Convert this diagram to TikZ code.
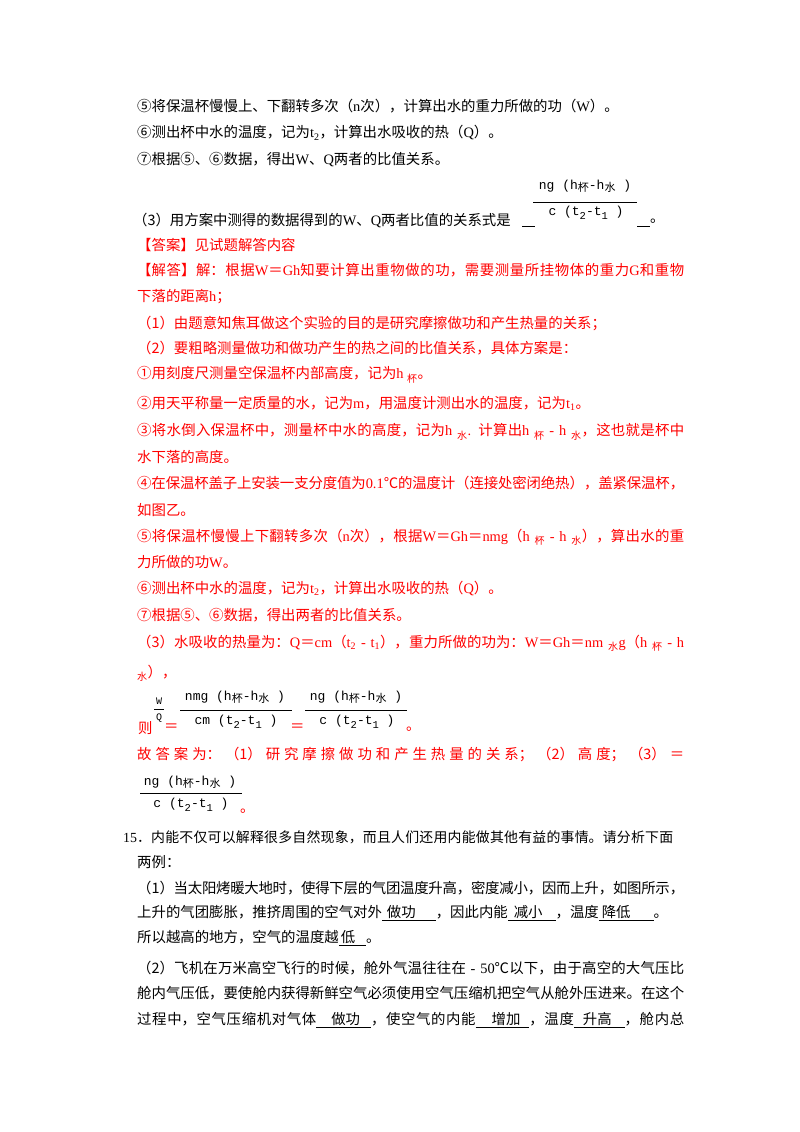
\documentclass[tikz,border=0pt]{standalone}
\usepackage{amsmath}
\usepackage{fontspec}
\setmainfont{Noto Sans CJK SC}
\newfontfamily\enfont{Liberation Serif}
\newfontfamily\frfont{Liberation Mono}
\newfontfamily\cjk{Noto Sans CJK SC}
\XeTeXlinebreaklocale "zh"
\XeTeXlinebreakskip=0pt plus 2pt minus 0.3pt
\setlength{\parindent}{0pt}
\definecolor{ansred}{RGB}{255,0,0}
\newcommand{\zh}{\fontsize{14.4}{17}\selectfont}
\newcommand{\frsz}{\frfont\fontsize{13}{15}\selectfont}
\newcommand{\en}[1]{{\enfont #1}}
\newcommand{\csub}[1]{\raisebox{-2.5pt}{\cjk\fontsize{11}{12}\selectfont #1}}
\newcommand{\dsub}[1]{\raisebox{-3.5pt}{\fontsize{10.5}{12}\selectfont #1}}
\newcommand{\fillin}[3]{\underline{\hspace*{#1pt}#2\hspace*{#3pt}}}
\newcommand{\jline}[1]{\parfillskip=0pt\rightskip=0pt\leftskip=0pt\tolerance=10000 #1\par}

\begin{document}
\begin{tikzpicture}[x=1pt, y=-1pt,
  txt/.style={anchor=west, inner sep=0pt, font=\zh},
  full/.style={txt, text width=547pt},
  ans/.style={text=ansred},
  fr/.style={inner sep=0pt, font=\frsz},
  bar/.style={line width=0.7pt}]
\fill[white] (0,0) rectangle (800,1132);
\useasboundingbox (0,0) rectangle (800,1132);

\node[txt] (q5) at (137,106) {⑤将保温杯慢慢上、下翻转多次（\en{n}次），计算出水的重力所做的功（\en{W}）。};
\node[txt] (q6) at (137,133) {⑥测出杯中水的温度，记为\en{t\textsubscript{2}}，计算出水吸收的热（\en{Q}）。};
\node[txt] (q7) at (137,160) {⑦根据⑤、⑥数据，得出\en{W}、\en{Q}两者的比值关系。};
\node[txt] (q3) at (133,221) {（3）用方案中测得的数据得到的\en{W}、\en{Q}两者比值的关系式是};
\draw (522,226) -- (535,226);
\node[fr] (q3n) at (585,186) {ng (h\csub{杯}-h\csub{水} )};
\draw[bar] (533,202) -- (637,202);
\node[fr] (q3d) at (586,213) {c (t\dsub{2}-t\dsub{1} )};
\draw (637,226) -- (650,226);
\node[txt] (q3e) at (650,221) {。};

\node[txt,ans] (a0) at (137,245) {【答案】见试题解答内容};
\node[full,ans] (a1) at (137,270) {\jline{【解答】解：根据\en{W}＝\en{Gh}知要计算出重物做的功，需要测量所挂物体的重力\en{G}和重物}};
\node[txt,ans] (a2) at (137,297) {下落的距离\en{h}；};
\node[txt,ans] (a3) at (137,323) {（1）由题意知焦耳做这个实验的目的是研究摩擦做功和产生热量的关系；};
\node[txt,ans] (a4) at (137,348) {（2）要粗略测量做功和做功产生的热之间的比值关系，具体方案是：};
\node[txt,ans] (a5) at (137,375) {①用刻度尺测量空保温杯内部高度，记为\en{h }\textsubscript{杯}。};
\node[txt,ans] (a6) at (137,403) {②用天平称量一定质量的水，记为\en{m}，用温度计测出水的温度，记为\en{t\textsubscript{1}}。};
\node[full,ans] (a7) at (137,432) {\jline{③将水倒入保温杯中，测量杯中水的高度，记为\en{h }\textsubscript{水}\en{. }计算出\en{h }\textsubscript{杯}\en{\ - h }\textsubscript{水}，这也就是杯中}};
\node[txt,ans] (a8) at (137,457) {水下落的高度。};
\node[full,ans] (a9) at (137,483) {\jline{④在保温杯盖子上安装一支分度值为\en{0.1}℃的温度计（连接处密闭绝热），盖紧保温杯，}};
\node[txt,ans] (a10) at (137,510) {如图乙。};
\node[full,ans] (a11) at (137,537) {\jline{⑤将保温杯慢慢上下翻转多次（\en{n}次），根据\en{W}＝\en{Gh}＝\en{nmg}（\en{h }\textsubscript{杯}\en{\ - h }\textsubscript{水}），算出水的重}};
\node[txt,ans] (a12) at (137,562) {力所做的功\en{W}。};
\node[txt,ans] (a13) at (137,588) {⑥测出杯中水的温度，记为\en{t\textsubscript{2}}，计算出水吸收的热（\en{Q}）。};
\node[txt,ans] (a14) at (137,615) {⑦根据⑤、⑥数据，得出两者的比值关系。};
\node[full,ans] (a15) at (137,643) {\jline{（3）水吸收的热量为：\en{Q}＝\en{cm}（\en{t\textsubscript{2}\ - t\textsubscript{1}}），重力所做的功为：\en{W}＝\en{Gh}＝\en{nm }\textsubscript{水}\en{g}（\en{h }\textsubscript{杯}\en{\ - h}}};
\node[txt,ans] (a16) at (137,673) {\textsubscript{水}），};

\node[txt,ans] (a17) at (138,728) {则};
\node[fr,font=\frfont\fontsize{10}{12}\selectfont] (wq1) at (159,701) {W};
\draw[bar] (154,709) -- (164,709);
\node[fr,font=\frfont\fontsize{10}{12}\selectfont] (wq2) at (159,718) {Q};
\node[txt,ans] (eqa) at (164,728) {＝};
\node[fr] (f1n) at (235,697) {nmg (h\csub{杯}-h\csub{水} )};
\draw[bar] (180,710) -- (292,710);
\node[fr] (f1d) at (236,722) {cm (t\dsub{2}-t\dsub{1} )};
\node[txt,ans] (eqb) at (290,728) {＝};
\node[fr] (f2n) at (356,697) {ng (h\csub{杯}-h\csub{水} )};
\draw[bar] (305,710) -- (407,710);
\node[fr] (f2d) at (357,722) {c (t\dsub{2}-t\dsub{1} )};
\node[txt,ans] (a18) at (406,729) {。};

\node[full,ans] (a19) at (137,754) {\jline{故答案为：（1）研究摩擦做功和产生热量的关系；（2）高度；（3）＝}};
\node[fr] (f3n) at (190,782) {ng (h\csub{杯}-h\csub{水} )};
\draw[bar] (140,793) -- (242,793);
\node[fr] (f3d) at (191,805) {c (t\dsub{2}-t\dsub{1} )};
\node[txt,ans] (a20) at (240,811) {。};

\node[txt,text width=550pt,font=\fontsize{13.9}{17}\selectfont] (p0) at (123,837) {\jline{\en{15}．内能不仅可以解释很多自然现象，而且人们还用内能做其他有益的事情。请分析下面}};
\node[txt] (p1) at (137,862) {两例：};
\node[full] (p2) at (137,888) {\jline{（1）当太阳烤暖大地时，使得下层的气团温度升高，密度减小，因而上升，如图所示，}};
\node[txt] (p3) at (137,913) {上升的气团膨胀，推挤周围的空气对外\fillin{5}{做功}{20}，因此内能\fillin{6}{减小}{13}，温度\fillin{3}{降低}{23}。};
\node[txt] (p4) at (137,938) {所以越高的地方，空气的温度越\fillin{2}{低}{11}。};
\node[full] (p5) at (137,968) {\jline{（2）飞机在万米高空飞行的时候，舱外气温往往在\en{\ - 50}℃以下，由于高空的大气压比}};
\node[full] (p6) at (137,993) {\jline{舱内气压低，要使舱内获得新鲜空气必须使用空气压缩机把空气从舱外压进来。在这个}};
\node[full] (p7) at (137,1020) {\jline{过程中，空气压缩机对气体\fillin{15}{做功}{11}，使空气的内能\fillin{16}{增加}{9}，温度\fillin{9}{升高}{13}，舱内总}};
\end{tikzpicture}
\end{document}
